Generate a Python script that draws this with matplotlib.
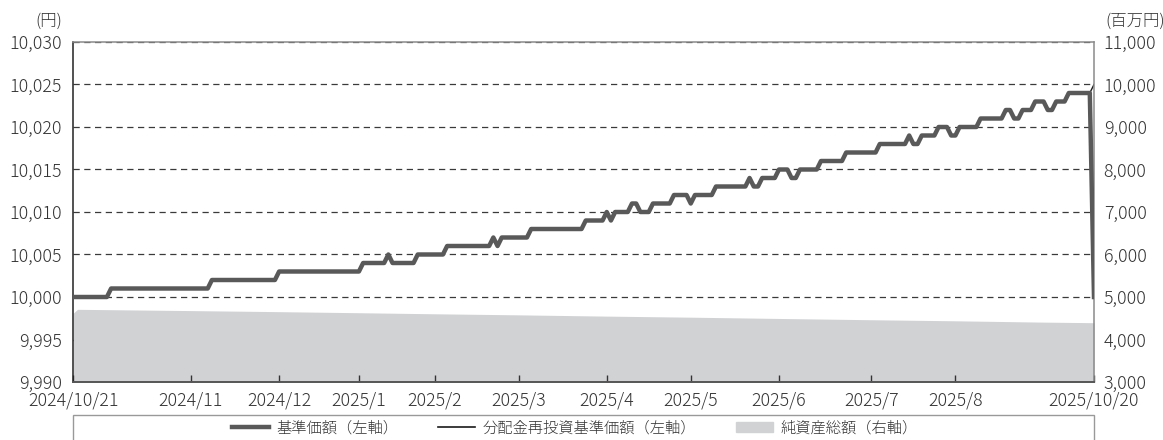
"""Fund NAV chart: 基準価額 / 分配金再投資基準価額 (left) and 純資産総額 (right)."""

import matplotlib
matplotlib.use("Agg")
import matplotlib.lines as mlines
import matplotlib.patches as mpatches
import matplotlib.pyplot as plt
import numpy as np
import pandas as pd

plt.rcParams["font.family"] = ["Noto Sans CJK JP", "DejaVu Sans"]
plt.rcParams["font.weight"] = "light"

# ---- data ----
START, END = "2024-10-21", "2025-10-20"
JP_HOLIDAYS = [
    "2024-11-04", "2024-12-31", "2025-01-01", "2025-01-02", "2025-01-03",
    "2025-01-13", "2025-02-11", "2025-02-24", "2025-03-20", "2025-04-29",
    "2025-05-05", "2025-05-06", "2025-07-21", "2025-08-11", "2025-09-15",
    "2025-09-23", "2025-10-13",
]

# 基準価額 (円): each level and how many business days it was held
NAV_LEVELS = [10000, 10001, 10002, 10003, 10004, 10005, 10004, 10005, 10006, 10007,
              10006, 10007, 10008, 10009, 10010, 10009, 10010, 10011, 10010, 10011,
              10012, 10011, 10012, 10013, 10014, 10013, 10014, 10015, 10014, 10015,
              10016, 10017, 10018, 10019, 10018, 10019, 10020, 10019, 10020, 10021,
              10022, 10021, 10022, 10023, 10022, 10023, 10024, 10000]
NAV_DAYS = [9, 24, 16, 20, 6, 1, 6, 7, 11, 1,
            1, 7, 13, 5, 1, 1, 4, 2, 3, 5,
            4, 1, 5, 8, 1, 2, 4, 3, 2, 5,
            6, 8, 7, 1, 2, 4, 3, 2, 5, 6,
            2, 2, 3, 3, 2, 3, 6, 1]
# 分配金再投資基準価額 only differs from 基準価額 on the last day
REINVEST_LAST = 10025

# 純資産総額 (百万円)
NET_DATES = ["2024-10-21", "2024-10-22", "2024-11-29", "2024-12-30", "2025-01-31",
             "2025-02-28", "2025-03-31", "2025-04-30", "2025-05-30", "2025-06-30",
             "2025-07-31", "2025-08-29", "2025-09-30", "2025-10-20"]
NET_VALUES = [4620, 4710, 4680, 4655, 4630, 4605, 4580, 4550, 4525, 4495,
              4465, 4440, 4410, 4395]

TICK_MONTHS = ["2024-11", "2024-12", "2025-01", "2025-02", "2025-03", "2025-04",
               "2025-05", "2025-06", "2025-07", "2025-08"]
TICK_LABELS = ["2024/11", "2024/12", "2025/1", "2025/2", "2025/3", "2025/4",
               "2025/5", "2025/6", "2025/7", "2025/8"]

# ---- styles ----
W, H = 1163, 440
NAV_C = "#595959"
REINV_C = "#1a1a1a"
AREA_C = "#d1d2d4"
TXT_C = "#333333"

days = pd.bdate_range(START, END, freq="C", holidays=JP_HOLIDAYS)
nav = np.repeat(NAV_LEVELS, NAV_DAYS).astype(float)
assert len(nav) == len(days), (len(nav), len(days))
reinv = nav.copy()
reinv[-1] = REINVEST_LAST
x = np.arange(len(days))

net_x = days.get_indexer(pd.to_datetime(NET_DATES))
months = days.strftime("%Y-%m")
tick_x = [int(np.where(months == m)[0][-1]) for m in TICK_MONTHS]

fig = plt.figure(figsize=(W / 100, H / 100), dpi=100)
fig.patch.set_facecolor("white")
left, right, top, bottom = 73.3, 1094, 42, 382
ax = fig.add_axes([left / W, 1 - bottom / H, (right - left) / W, (bottom - top) / H])
ax2 = ax.twinx()
ax.set_zorder(ax2.get_zorder() + 1)
ax.patch.set_visible(False)

# right axis: net assets area + dashed grid underneath
ax2.set_axisbelow(True)
ax2.fill_between(net_x, NET_VALUES, 3000, color=AREA_C, lw=0, zorder=1)
ax2.set_ylim(3000, 11000)
ax2.set_yticks(range(3000, 11001, 1000))
ax2.set_yticklabels([f"{v:,}" for v in range(3000, 11001, 1000)])
ax2.yaxis.grid(True, ls=(0, (5, 3.6)), color="#3a3a3a", lw=0.9)
ax2.tick_params(axis="y", length=0, pad=7, labelsize=12.8, labelcolor=TXT_C)
for s in ax2.spines.values():
    s.set_visible(False)

# left axis: price lines
ax.plot(x, reinv, color=REINV_C, lw=1.0, zorder=2)
ax.plot(x, nav, color=NAV_C, lw=3.2, zorder=3)
ax.set_xlim(0, len(days) - 1)
ax.set_ylim(9990, 10030)
ax.set_yticks(range(9990, 10031, 5))
ax.set_yticklabels([f"{v:,}" for v in range(9990, 10031, 5)])
ax.tick_params(axis="y", length=0, pad=8, labelsize=12.8, labelcolor=TXT_C)

ax.set_xticks([0] + tick_x + [len(days) - 1])
ax.set_xticklabels(["2024/10/21"] + TICK_LABELS + ["2025/10/20"])
ax.tick_params(axis="x", direction="in", length=5, width=1, color="#333333",
               pad=7, labelsize=12.8, labelcolor=TXT_C)

ax.spines["left"].set_color("#222222")
ax.spines["bottom"].set_color("#555555")
ax.spines["bottom"].set_linewidth(1.4)
ax.spines["top"].set_color("#8a8a8a")
ax.spines["right"].set_color("#8a8a8a")
for s in ("left", "top", "right"):
    ax.spines[s].set_linewidth(1.1)

# unit labels
fig.text(62 / W, 1 - 21 / H, "(円)", ha="right", va="center", fontsize=11.8, color=TXT_C)
fig.text(1105 / W, 1 - 21 / H, "(百万円)", ha="left", va="center", fontsize=11.8, color=TXT_C)

# legend box under the chart
fig.patches.append(mpatches.Rectangle(
    (left / W, -0.05), (right - left) / W, 0.05 + (1 - 415 / H),
    transform=fig.transFigure, fill=False, edgecolor="#999999", lw=1.0))
handles = [
    mlines.Line2D([], [], color=NAV_C, lw=3.2, label="基準価額（左軸）"),
    mlines.Line2D([], [], color=REINV_C, lw=1.2, label="分配金再投資基準価額（左軸）"),
    mpatches.Patch(color=AREA_C, label="純資産総額（右軸）"),
]
fig.legend(handles=handles, loc="center", bbox_to_anchor=(575 / W, 1 - 428 / H),
           ncol=3, frameon=False, fontsize=11.0, handlelength=2.4,
           handletextpad=0.5, columnspacing=2.6, labelcolor=TXT_C)

fig.savefig("out.png", dpi=100, facecolor="white")
